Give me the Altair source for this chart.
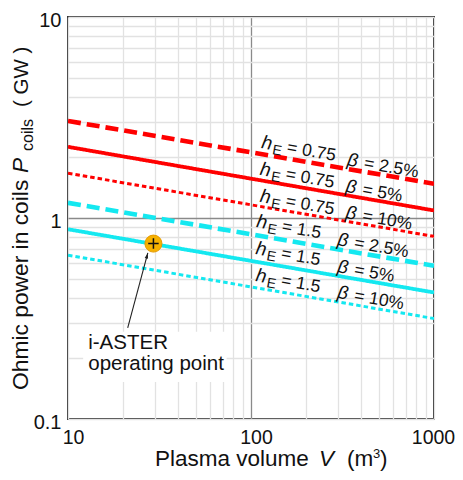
import altair as alt
import pandas as pd

# ---------------- data ----------------
V_ENDS = [10, 1000]
SERIES = ["h0.75_b2.5", "h0.75_b5", "h0.75_b10", "h1.5_b2.5", "h1.5_b5", "h1.5_b10"]
GROUPS = ["red", "red", "red", "cyan", "cyan", "cyan"]
STYLES = ["dashed", "solid", "dotted", "dashed", "solid", "dotted"]
P_RED_DASHED = [3.04, 1.48]
P_RED_SOLID = [2.26, 1.09]
P_RED_DOTTED = [1.67, 0.81]
P_CYAN_DASHED = [1.19, 0.578]
P_CYAN_SOLID = [0.879, 0.426]
P_CYAN_DOTTED = [0.653, 0.316]
P_VALUES = [P_RED_DASHED, P_RED_SOLID, P_RED_DOTTED, P_CYAN_DASHED, P_CYAN_SOLID, P_CYAN_DOTTED]

HE_LABEL_V = [113, 111, 111, 106, 105, 105]
HE_LABEL_P = [2.23, 1.64, 1.205, 0.902, 0.662, 0.486]
HE_TEXT = ["= 0.75", "= 0.75", "= 0.75", "= 1.5", "= 1.5", "= 1.5"]
BETA_LABEL_V = [333, 326, 326, 294, 294, 294]
BETA_LABEL_P = [1.83, 1.35, 1.0, 0.734, 0.539, 0.401]
BETA_TEXT = ["= 2.5%", "= 5%", "= 10%", "= 2.5%", "= 5%", "= 10%"]

OP_V = [29.3]
OP_P = [0.746]
OP_LABEL = ["i-ASTER", "operating point"]
OP_LABEL_V = [12.9]
OP_LABEL_P = [0.223]
ARROW_V = [21.2, 27.3]
ARROW_P = [0.284, 0.67]
BOX_V = [12.1, 73.6]
BOX_P = [0.153, 0.272]

X_TICKS = [10, 20, 30, 40, 50, 60, 70, 80, 90, 100, 200, 300, 400, 500, 600, 700, 800, 900, 1000]
Y_TICKS = [0.1, 0.2, 0.3, 0.4, 0.5, 0.6, 0.7, 0.8, 0.9, 1, 2, 3, 4, 5, 6, 7, 8, 9, 10]

FONT = "Liberation Sans"
W, H = 366, 402

# ---------------- tables ----------------
rows = []
for name, grp, sty, vals in zip(SERIES, GROUPS, STYLES, P_VALUES):
    for v, p in zip(V_ENDS, vals):
        rows.append({"series": name, "group": grp, "style": sty, "V": v, "P": p})
lines_df = pd.DataFrame(rows)

he_df = pd.DataFrame({"V": HE_LABEL_V, "P": HE_LABEL_P, "t": HE_TEXT})
beta_df = pd.DataFrame({"V": BETA_LABEL_V, "P": BETA_LABEL_P, "t": BETA_TEXT})
op_df = pd.DataFrame({"V": OP_V, "P": OP_P})
arrow_df = pd.DataFrame({"V": ARROW_V, "P": ARROW_P})
tip_df = pd.DataFrame({"V": ARROW_V[-1:], "P": ARROW_P[-1:]})
box_df = pd.DataFrame({"V": BOX_V[:1], "V2": BOX_V[1:], "P": BOX_P[:1], "P2": BOX_P[1:]})
oplab_df = pd.DataFrame({"V": OP_LABEL_V, "P": OP_LABEL_P, "t": [OP_LABEL]})

xs = alt.Scale(type="log", domain=[10, 1000], nice=False)
ys = alt.Scale(type="log", domain=[0.1, 10], nice=False)

x_axis = alt.Axis(
    values=X_TICKS, title=None, grid=True, ticks=False, domain=False,
    labelExpr="datum.value == 10 || datum.value == 100 || datum.value == 1000 ? '' + datum.value : ''",
    labelFont=FONT, labelFontSize=19.5, labelColor="#111", labelPadding=9,
    labelOffset={"condition": {"test": "datum.value == 1000", "value": -1}, "value": 5},
    labelOverlap=False, labelFlush=False,
    gridColor={"condition": {"test": "datum.value == 100", "value": "#8a8a8a"}, "value": "#e2e2e2"},
    gridWidth=1.3,
)
y_axis = alt.Axis(
    values=Y_TICKS, title=None, grid=True, ticks=False, domain=False,
    labelExpr="datum.value == 0.1 || datum.value == 1 || datum.value == 10 ? '' + datum.value : ''",
    labelFont=FONT, labelFontSize=20, labelColor="#111", labelPadding=7, labelOffset=3,
    labelOverlap=False, labelFlush=False,
    gridColor={"condition": {"test": "datum.value == 1", "value": "#8a8a8a"}, "value": "#e2e2e2"},
    gridWidth=1.3,
)


def X(field="V"):
    return alt.X(f"{field}:Q", scale=xs, axis=x_axis)


def Y(field="P"):
    return alt.Y(f"{field}:Q", scale=ys, axis=y_axis)


layers = []

# white box behind the annotation text
layers.append(
    alt.Chart(box_df).mark_rect(color="white").encode(
        x=X(), x2="V2:Q", y=Y(), y2="P2:Q"
    )
)

# the six lines
layers.append(
    alt.Chart(lines_df).mark_line(clip=True).encode(
        x=X(), y=Y(), detail="series:N",
        color=alt.Color("group:N", scale=alt.Scale(domain=["red", "cyan"], range=["#ff0000", "#14e8f0"]), legend=None),
        strokeDash=alt.StrokeDash("style:N", scale=alt.Scale(domain=["dashed", "solid", "dotted"],
                                                             range=[[13, 6], [1, 0], [4.5, 3]]), legend=None),
        strokeWidth=alt.StrokeWidth("style:N", scale=alt.Scale(domain=["dashed", "solid", "dotted"],
                                                               range=[4.6, 3, 3]), legend=None),
    )
)

# line labels (rotated, pieces offset along the baseline)
ANG = 10
txt = dict(font=FONT, angle=ANG, align="left", baseline="alphabetic", color="#111")
layers.append(alt.Chart(he_df).mark_text(text="h", fontSize=19, fontStyle="italic", **txt).encode(x=X(), y=Y()))
layers.append(alt.Chart(he_df).mark_text(text="E", fontSize=14, dx=12, dy=4, **txt).encode(x=X(), y=Y()))
layers.append(alt.Chart(he_df).mark_text(fontSize=17.5, dx=26, **txt).encode(x=X(), y=Y(), text="t:N"))
layers.append(alt.Chart(beta_df).mark_text(text="β", fontSize=18.5, fontStyle="italic", **txt).encode(x=X(), y=Y()))
layers.append(alt.Chart(beta_df).mark_text(fontSize=17.5, dx=17, **txt).encode(x=X(), y=Y(), text="t:N"))

# arrow to the operating point
layers.append(alt.Chart(arrow_df).mark_line(color="#222", strokeWidth=1.1).encode(x=X(), y=Y()))
layers.append(
    alt.Chart(tip_df).mark_point(shape="M0,0L-0.75,2.4L0.75,2.4Z", filled=True, color="#222", size=22,
                                 angle=15, opacity=1).encode(x=X(), y=Y())
)

# operating point
layers.append(
    alt.Chart(op_df).mark_point(shape="circle", filled=True, color="#f6b100", size=290, opacity=1,
                                stroke="#e59a00", strokeWidth=1).encode(x=X(), y=Y())
)
layers.append(
    alt.Chart(op_df).mark_point(shape="M-1,0L1,0M0,-1L0,1", filled=False, color="#111", size=110,
                                strokeWidth=1.5, opacity=1).encode(x=X(), y=Y())
)

# annotation text
layers.append(
    alt.Chart(oplab_df).mark_text(font=FONT, fontSize=20.5, align="left", baseline="alphabetic",
                                  lineHeight=21, color="#111").encode(x=X(), y=Y(), text="t")
)

# axis titles built from pieces
one = pd.DataFrame({"k": [0]})


def piece(text, x, y, size, italic=False, angle=0):
    kw = dict(text=text, x=x, y=y, font=FONT, fontSize=size, align="left", baseline="alphabetic",
              color="#111")
    if italic:
        kw["fontStyle"] = "italic"
    if angle:
        kw["angle"] = angle
    return alt.Chart(one).mark_text(**kw).encode()


X_TITLE = ["Plasma volume", "V", "(m", "3", ")"]
Y_TITLE = ["Ohmic power in coils", "P", "coils", "( GW )"]

layers += [
    piece(X_TITLE[0], 87, 449, 22.5),
    piece(X_TITLE[1], 251, 449, 22.5, italic=True),
    piece(X_TITLE[2], 279, 449, 22.5),
    piece(X_TITLE[3], 305, 441, 13),
    piece(X_TITLE[4], 312, 449, 22.5),
    piece(Y_TITLE[0], -40, 373, 22.8, angle=270),
    piece(Y_TITLE[1], -40, 156, 22.8, italic=True, angle=270),
    piece(Y_TITLE[2], -35, 134, 16, angle=270),
    piece(Y_TITLE[3], -40, 90, 20.5, angle=270),
]

chart = (
    alt.layer(*layers)
    .properties(width=W, height=H, autosize=alt.AutoSizeParams(type="none"),
                padding={"left": 60, "top": 9, "right": 21, "bottom": 53})
    .configure_view(stroke="#333333", strokeWidth=2)
)

chart.save("out.html", embed_options={"renderer": "svg", "actions": False})
